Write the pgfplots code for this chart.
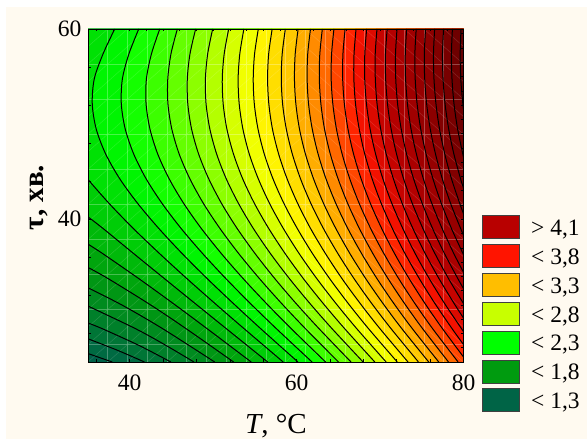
\documentclass[border=0pt]{standalone}
\usepackage{fontspec}
\setmainfont{Liberation Serif}
\usepackage{pgfplots}
\pgfplotsset{compat=1.18}
\definecolor{cream}{RGB}{255,250,240}
% band colours: band above each contour level (level x 10)
\definecolor{b12}{RGB}{0,96,72}
\definecolor{b13}{RGB}{0,106,66}
\definecolor{b14}{RGB}{0,117,54}
\definecolor{b15}{RGB}{0,128,42}
\definecolor{b16}{RGB}{0,139,31}
\definecolor{b17}{RGB}{0,150,20}
\definecolor{b18}{RGB}{0,165,13}
\definecolor{b19}{RGB}{0,185,10}
\definecolor{b20}{RGB}{0,205,7}
\definecolor{b21}{RGB}{0,225,4}
\definecolor{b22}{RGB}{0,245,1}
\definecolor{b23}{RGB}{20,255,0}
\definecolor{b24}{RGB}{60,255,0}
\definecolor{b25}{RGB}{100,255,0}
\definecolor{b26}{RGB}{140,255,0}
\definecolor{b27}{RGB}{180,255,0}
\definecolor{b28}{RGB}{214,255,0}
\definecolor{b29}{RGB}{241,255,0}
\definecolor{b30}{RGB}{255,244,0}
\definecolor{b31}{RGB}{255,222,0}
\definecolor{b32}{RGB}{255,201,0}
\definecolor{b33}{RGB}{255,173,0}
\definecolor{b34}{RGB}{255,139,0}
\definecolor{b35}{RGB}{255,105,0}
\definecolor{b36}{RGB}{255,71,0}
\definecolor{b37}{RGB}{255,37,0}
\definecolor{b38}{RGB}{243,17,0}
\definecolor{b39}{RGB}{220,10,0}
\definecolor{b40}{RGB}{197,3,0}
\definecolor{b41}{RGB}{180,0,0}
\definecolor{b42}{RGB}{170,0,0}
\definecolor{b43}{RGB}{160,0,0}
\definecolor{b44}{RGB}{150,0,0}
\definecolor{b45}{RGB}{140,0,0}
\definecolor{b46}{RGB}{130,0,0}
\definecolor{b47}{RGB}{120,0,0}
\definecolor{b48}{RGB}{110,0,0}
\definecolor{b49}{RGB}{100,0,0}
\definecolor{l1}{RGB}{184,0,0}
\definecolor{l2}{RGB}{255,20,0}
\definecolor{l3}{RGB}{255,190,0}
\definecolor{l4}{RGB}{200,255,0}
\definecolor{l5}{RGB}{0,255,0}
\definecolor{l6}{RGB}{0,155,15}
\definecolor{l7}{RGB}{0,100,70}
% contour lines, level x 10: (T, tau)
\expandafter\def\csname c13\endcsname{(35,25.89)(37.91,25)}
\expandafter\def\csname c14\endcsname{(35,27.44)(38.62,26.2)(41.76,25)}
\expandafter\def\csname c15\endcsname{(35,29.1)(36.71,28.5)(41.09,26.75)(44.93,25)}
\expandafter\def\csname c16\endcsname{(35,30.88)(40.70,28.5)(44.33,26.75)(47.70,25)}
\expandafter\def\csname c17\endcsname{(35,32.8)(39.15,30.95)(43.95,28.5)(50.18,25)}
\expandafter\def\csname c18\endcsname{(35,34.94)(37.44,33.75)(42.59,30.95)(46.76,28.5)(52.45,25)}
\expandafter\def\csname c19\endcsname{(35,37.39)(36.79,36.375)(41.11,33.75)(45.25,31.125)(49.28,28.5)(54.56,25)}
\expandafter\def\csname c20\endcsname{(35,40.26)(36.85,39)(40.50,36.375)(44.18,33.75)(47.87,31.125)(51.58,28.5)(56.53,25)}
\expandafter\def\csname c21\endcsname{(35,44.18)(37.57,41.625)(40.47,39)(43.60,36.375)(46.87,33.75)(50.25,31.125)(53.71,28.5)(58.39,25)}
\expandafter\def\csname c22\endcsname{(38.2,60)(36.8,57.375)(35.75,54.75)(35.51,52.125)(35.98,49.5)(37.11,46.875)(38.81,44.25)(40.99,41.625)(43.52,39)(46.31,36.375)(49.30,33.75)(52.45,31.125)(55.70,28.5)(60.16,25)}
\expandafter\def\csname c23\endcsname{(41.08,60)(39.9,57.375)(39.12,54.75)(38.99,52.125)(39.46,49.5)(40.47,46.875)(41.97,44.25)(43.91,41.625)(46.19,39)(48.76,36.375)(51.54,33.75)(54.49,31.125)(57.58,28.5)(61.85,25)}
\expandafter\def\csname c24\endcsname{(43.6,60)(42.6,57.375)(42.0,54.75)(41.96,52.125)(42.42,49.5)(43.35,46.875)(44.73,44.25)(46.50,41.625)(48.61,39)(51.00,36.375)(53.61,33.75)(56.41,31.125)(59.36,28.5)(63.47,25)}
\expandafter\def\csname c25\endcsname{(45.71,60)(44.94,57.375)(44.56,54.75)(44.58,52.125)(45.04,49.5)(45.92,46.875)(47.21,44.25)(48.86,41.625)(50.84,39)(53.08,36.375)(55.56,33.75)(58.23,31.125)(61.06,28.5)(65.02,25)}
\expandafter\def\csname c26\endcsname{(47.90,60)(47.22,57.375)(46.90,54.75)(46.96,52.125)(47.41,49.5)(48.25,46.875)(49.47,44.25)(51.03,41.625)(52.90,39)(55.04,36.375)(57.40,33.75)(59.96,31.125)(62.69,28.5)(66.52,25)}
\expandafter\def\csname c27\endcsname{(49.94,60)(49.34,57.375)(49.07,54.75)(49.15,52.125)(49.60,49.5)(50.41,46.875)(51.57,44.25)(53.06,41.625)(54.84,39)(56.88,36.375)(59.15,33.75)(61.62,31.125)(64.25,28.5)(67.97,25)}
\expandafter\def\csname c28\endcsname{(51.86,60)(51.32,57.375)(51.09,54.75)(51.20,52.125)(51.64,49.5)(52.43,46.875)(53.54,44.25)(54.97,41.625)(56.68,39)(58.64,36.375)(60.82,33.75)(63.21,31.125)(65.76,28.5)(69.37,25)}
\expandafter\def\csname c29\endcsname{(53.68,60)(53.19,57.375)(52.99,54.75)(53.12,52.125)(53.56,49.5)(54.32,46.875)(55.41,44.25)(56.78,41.625)(58.43,39)(60.32,36.375)(62.43,33.75)(64.74,31.125)(67.21,28.5)(70.73,25)}
\expandafter\def\csname c30\endcsname{(55.41,60)(54.96,57.375)(54.80,54.75)(54.93,52.125)(55.37,49.5)(56.12,46.875)(57.17,44.25)(58.50,41.625)(60.10,39)(61.92,36.375)(63.97,33.75)(66.21,31.125)(68.62,28.5)(72.06,25)}
\expandafter\def\csname c31\endcsname{(57.07,60)(56.65,57.375)(56.52,54.75)(56.67,52.125)(57.10,49.5)(57.84,46.875)(58.86,44.25)(60.15,41.625)(61.69,39)(63.47,36.375)(65.45,33.75)(67.64,31.125)(69.99,28.5)(73.35,25)}
\expandafter\def\csname c32\endcsname{(58.65,60)(58.27,57.375)(58.16,54.75)(58.32,52.125)(58.76,49.5)(59.48,46.875)(60.47,44.25)(61.73,41.625)(63.23,39)(64.96,36.375)(66.89,33.75)(69.02,31.125)(71.32,28.5)(74.60,25)}
\expandafter\def\csname c33\endcsname{(60.18,60)(59.83,57.375)(59.74,54.75)(59.91,52.125)(60.34,49.5)(61.05,46.875)(62.03,44.25)(63.25,41.625)(64.72,39)(66.40,36.375)(68.29,33.75)(70.37,31.125)(72.61,28.5)(75.83,25)}
\expandafter\def\csname c34\endcsname{(61.66,60)(61.33,57.375)(61.26,54.75)(61.43,52.125)(61.87,49.5)(62.57,46.875)(63.52,44.25)(64.72,41.625)(66.15,39)(67.80,36.375)(69.64,33.75)(71.67,31.125)(73.87,28.5)(77.03,25)}
\expandafter\def\csname c35\endcsname{(63.08,60)(62.78,57.375)(62.72,54.75)(62.91,52.125)(63.34,49.5)(64.03,46.875)(64.97,44.25)(66.14,41.625)(67.54,39)(69.15,36.375)(70.96,33.75)(72.95,31.125)(75.10,28.5)(78.20,25)}
\expandafter\def\csname c36\endcsname{(64.47,60)(64.19,57.375)(64.14,54.75)(64.34,52.125)(64.77,49.5)(65.45,46.875)(66.37,44.25)(67.52,41.625)(68.89,39)(70.47,36.375)(72.24,33.75)(74.19,31.125)(76.30,28.5)(79.35,25)}
\expandafter\def\csname c37\endcsname{(65.81,60)(65.55,57.375)(65.52,54.75)(65.72,52.125)(66.15,49.5)(66.82,46.875)(67.73,44.25)(68.86,41.625)(70.21,39)(71.75,36.375)(73.49,33.75)(75.40,31.125)(77.48,28.5)(80,25.53)}
\expandafter\def\csname c38\endcsname{(67.12,60)(66.88,57.375)(66.86,54.75)(67.06,52.125)(67.50,49.5)(68.16,46.875)(69.05,44.25)(70.16,41.625)(71.49,39)(73.00,36.375)(74.71,33.75)(76.59,31.125)(78.63,28.5)(80,26.83)}
\expandafter\def\csname c39\endcsname{(68.39,60)(68.17,57.375)(68.16,54.75)(68.37,52.125)(68.80,49.5)(69.46,46.875)(70.34,44.25)(71.43,41.625)(72.74,39)(74.22,36.375)(75.90,33.75)(77.75,31.125)(79.76,28.5)(80,28.19)}
\expandafter\def\csname c40\endcsname{(69.63,60)(69.42,57.375)(69.43,54.75)(69.64,52.125)(70.07,49.5)(70.73,46.875)(71.60,44.25)(72.67,41.625)(73.95,39)(75.42,36.375)(77.07,33.75)(78.89,31.125)(80,29.62)}
\expandafter\def\csname c41\endcsname{(70.85,60)(70.65,57.375)(70.67,54.75)(70.89,52.125)(71.32,49.5)(71.97,46.875)(72.82,44.25)(73.88,41.625)(75.15,39)(76.59,36.375)(78.21,33.75)(80,31.14)}
\expandafter\def\csname c42\endcsname{(72.03,60)(71.85,57.375)(71.88,54.75)(72.10,52.125)(72.53,49.5)(73.17,46.875)(74.02,44.25)(75.07,41.625)(76.31,39)(77.73,36.375)(79.33,33.75)(80,32.72)}
\expandafter\def\csname c43\endcsname{(73.19,60)(73.02,57.375)(73.06,54.75)(73.28,52.125)(73.71,49.5)(74.35,46.875)(75.19,44.25)(76.22,41.625)(77.45,39)(78.85,36.375)(80,34.43)}
\expandafter\def\csname c44\endcsname{(74.33,60)(74.17,57.375)(74.21,54.75)(74.44,52.125)(74.87,49.5)(75.51,46.875)(76.34,44.25)(77.36,41.625)(78.57,39)(79.95,36.375)(80,36.29)}
\expandafter\def\csname c45\endcsname{(75.45,60)(75.30,57.375)(75.35,54.75)(75.58,52.125)(76.01,49.5)(76.64,46.875)(77.46,44.25)(78.47,41.625)(79.67,39)(80,38.32)}
\expandafter\def\csname c46\endcsname{(76.54,60)(76.40,57.375)(76.46,54.75)(76.70,52.125)(77.12,49.5)(77.75,46.875)(78.56,44.25)(79.56,41.625)(80,40.58)}
\expandafter\def\csname c47\endcsname{(77.61,60)(77.48,57.375)(77.55,54.75)(77.79,52.125)(78.22,49.5)(78.84,46.875)(79.65,44.25)(80,43.27)}
\expandafter\def\csname c48\endcsname{(78.67,60)(78.55,57.375)(78.62,54.75)(78.86,52.125)(79.29,49.5)(79.91,46.875)(80,46.53)}
\expandafter\def\csname c49\endcsname{(79.70,60)(79.60,57.375)(79.67,54.75)(79.92,52.125)(80,51.6)}
% #1 level, #2 closing corners
\newcommand\band[2]{\edef\tmp{\noexpand\addplot[draw=none,fill=b#1,forget plot] coordinates {\csname c#1\endcsname #2} -- cycle;}\tmp}
\newcommand\contourline[1]{\edef\tmp{\noexpand\addplot[black,smooth,line width=1bp,forget plot] coordinates {\csname c#1\endcsname};}\tmp}
\newcommand\lgd[2]{\addlegendimage{legend image code/.code={\draw[fill=#1,draw=black!75,line width=.9bp] (0bp,-10.2bp) rectangle (37.6bp,12.8bp);}}\addlegendentry{\hspace*{11bp}#2}}
\begin{document}
\begin{tikzpicture}[x=1bp,y=1bp]
\path[use as bounding box] (0,0) rectangle (587,439);
\fill[cream] (6,0) rectangle (587,432);
\begin{axis}[
  at={(88bp,77bp)},anchor=south west,
  width=375.5bp,height=333bp,scale only axis,
  xmin=35,xmax=80,ymin=25,ymax=60,
  axis on top=true,
  xtick={40,60,80},ytick={40,60},
  minor xtick={36,44,48,52,56,64,68,72,76},
  minor ytick={28,32,36,44,48,52,56},
  xtick pos=bottom,ytick pos=left,
  tick align=inside,
  major tick length=3bp,minor tick length=2.5bp,
  every tick/.style={black,line width=.6bp},
  axis line style={black,line width=.9bp},
  /pgf/number format/assume math mode=true,
  tick label style={font=\fontsize{23.5bp}{27bp}\selectfont},
  xticklabel style={yshift=-9bp},
  yticklabel style={xshift=-3bp},
  unbounded coords=jump,
  xlabel={\textit{T}, °C},
  xlabel style={font=\fontsize{29bp}{32bp}\selectfont,at={(axis description cs:.5007,-.2162)},anchor=base},
  ylabel={\textbf{τ, хв.}},
  ylabel style={font=\fontsize{29bp}{32bp}\selectfont,at={(axis description cs:-.1198,.494)},anchor=base,rotate=0},
  legend style={at={(axis description cs:1.0485,.4414)},anchor=north west,draw=none,fill=none,inner sep=0pt,outer sep=0pt,
    font=\fontsize{23.5bp}{27bp}\selectfont,row sep=5bp,
    nodes={inner sep=0pt,outer sep=0pt}},
  legend cell align=left,
]
\addplot[draw=none,fill=b12,forget plot] coordinates {(35,25)(80,25)(80,60)(35,60)} -- cycle;
\band{13}{(80,25)(80,60)(35,60)}
\band{14}{(80,25)(80,60)(35,60)}
\band{15}{(80,25)(80,60)(35,60)}
\band{16}{(80,25)(80,60)(35,60)}
\band{17}{(80,25)(80,60)(35,60)}
\band{18}{(80,25)(80,60)(35,60)}
\band{19}{(80,25)(80,60)(35,60)}
\band{20}{(80,25)(80,60)(35,60)}
\band{21}{(80,25)(80,60)(35,60)}
\band{22}{(80,25)(80,60)}
\band{23}{(80,25)(80,60)}
\band{24}{(80,25)(80,60)}
\band{25}{(80,25)(80,60)}
\band{26}{(80,25)(80,60)}
\band{27}{(80,25)(80,60)}
\band{28}{(80,25)(80,60)}
\band{29}{(80,25)(80,60)}
\band{30}{(80,25)(80,60)}
\band{31}{(80,25)(80,60)}
\band{32}{(80,25)(80,60)}
\band{33}{(80,25)(80,60)}
\band{34}{(80,25)(80,60)}
\band{35}{(80,25)(80,60)}
\band{36}{(80,25)(80,60)}
\band{37}{(80,60)}
\band{38}{(80,60)}
\band{39}{(80,60)}
\band{40}{(80,60)}
\band{41}{(80,60)}
\band{42}{(80,60)}
\band{43}{(80,60)}
\band{44}{(80,60)}
\band{45}{(80,60)}
\band{46}{(80,60)}
\band{47}{(80,60)}
\band{48}{(80,60)}
\band{49}{(80,60)}
% faint mesh of the fitted surface
\addplot[white,opacity=.28,line width=.8bp,forget plot] coordinates {
(37.37,25)(37.37,60)(nan,nan)(39.74,25)(39.74,60)(nan,nan)(42.11,25)(42.11,60)(nan,nan)(44.47,25)(44.47,60)(nan,nan)
(46.84,25)(46.84,60)(nan,nan)(49.21,25)(49.21,60)(nan,nan)(51.58,25)(51.58,60)(nan,nan)(53.95,25)(53.95,60)(nan,nan)
(56.32,25)(56.32,60)(nan,nan)(58.68,25)(58.68,60)(nan,nan)(61.05,25)(61.05,60)(nan,nan)(63.42,25)(63.42,60)(nan,nan)
(65.79,25)(65.79,60)(nan,nan)(68.16,25)(68.16,60)(nan,nan)(70.53,25)(70.53,60)(nan,nan)(72.89,25)(72.89,60)(nan,nan)
(75.26,25)(75.26,60)(nan,nan)(77.63,25)(77.63,60)(nan,nan)
(35,56.32)(80,56.32)(nan,nan)(35,52.63)(80,52.63)(nan,nan)(35,48.95)(80,48.95)(nan,nan)(35,45.26)(80,45.26)(nan,nan)
(35,41.58)(80,41.58)(nan,nan)(35,37.89)(80,37.89)(nan,nan)(35,34.21)(80,34.21)(nan,nan)(35,30.53)(80,30.53)(nan,nan)
(35,26.84)(80,26.84)
};
\addplot[white,opacity=.15,line width=.5bp,forget plot] coordinates {
(35,26.84)(61.05,47.11)(nan,nan)(35,28.68)(61.05,48.95)(nan,nan)(35,30.53)(61.05,50.79)(nan,nan)(35,32.37)(61.05,52.63)(nan,nan)
(35,34.21)(61.05,54.47)(nan,nan)(35,36.05)(61.05,56.32)(nan,nan)(35,37.89)(61.05,58.16)(nan,nan)(35,39.74)(61.05,60)(nan,nan)
(35,41.58)(58.68,60)(nan,nan)(35,43.42)(56.32,60)(nan,nan)(35,45.26)(53.95,60)(nan,nan)(35,47.11)(51.58,60)(nan,nan)
(35,48.95)(49.21,60)(nan,nan)(35,50.79)(46.84,60)(nan,nan)(35,52.63)(44.47,60)(nan,nan)(35,54.47)(42.11,60)(nan,nan)
(35,56.32)(39.74,60)(nan,nan)(35,58.16)(37.37,60)(nan,nan)
(35,25)(61.05,45.26)(nan,nan)(37.37,25)(61.05,43.42)(nan,nan)(39.74,25)(61.05,41.58)(nan,nan)(42.11,25)(61.05,39.74)(nan,nan)
(44.47,25)(61.05,37.89)(nan,nan)(46.84,25)(61.05,36.05)(nan,nan)(49.21,25)(61.05,34.21)(nan,nan)(51.58,25)(61.05,32.37)(nan,nan)
(53.95,25)(61.05,30.53)(nan,nan)(56.32,25)(61.05,28.68)(nan,nan)(58.68,25)(61.05,26.84)(nan,nan)
(61.05,60)(80,45.26)(nan,nan)(61.05,58.16)(80,43.42)(nan,nan)(61.05,56.32)(80,41.58)(nan,nan)(61.05,54.47)(80,39.74)(nan,nan)
(61.05,52.63)(80,37.89)(nan,nan)(61.05,50.79)(80,36.05)(nan,nan)(61.05,48.95)(80,34.21)(nan,nan)(61.05,47.11)(80,32.37)(nan,nan)
(61.05,45.26)(80,30.53)(nan,nan)(61.05,43.42)(80,28.68)(nan,nan)(61.05,41.58)(80,26.84)(nan,nan)(61.05,39.74)(80,25)(nan,nan)
(61.05,37.89)(77.63,25)(nan,nan)(61.05,36.05)(75.26,25)(nan,nan)(61.05,34.21)(72.89,25)(nan,nan)(61.05,32.37)(70.53,25)(nan,nan)
(61.05,30.53)(68.16,25)(nan,nan)(61.05,28.68)(65.79,25)(nan,nan)(61.05,26.84)(63.42,25)(nan,nan)
(63.42,60)(80,47.11)(nan,nan)(65.79,60)(80,48.95)(nan,nan)(68.16,60)(80,50.79)(nan,nan)(70.53,60)(80,52.63)(nan,nan)
(72.89,60)(80,54.47)(nan,nan)(75.26,60)(80,56.32)(nan,nan)(77.63,60)(80,58.16)
};
\pgfplotsforeachungrouped \L in {13,14,...,49}{\contourline{\L}}
\lgd{l1}{> 4,1}
\lgd{l2}{< 3,8}
\lgd{l3}{< 3,3}
\lgd{l4}{< 2,8}
\lgd{l5}{< 2,3}
\lgd{l6}{< 1,8}
\lgd{l7}{< 1,3}
\end{axis}
\begin{axis}[
  at={(88bp,77bp)},anchor=south west,
  width=375.5bp,height=333bp,scale only axis,
  xmin=35,xmax=80,ymin=25,ymax=60,
  xtick={36,38,...,78},ytick={26.5,28,...,59.5},
  xticklabels={},yticklabels={},
  xtick pos=top,ytick pos=right,
  tick align=inside,major tick length=2.5bp,
  every tick/.style={black,line width=.6bp},
  axis line style={draw=none},
]
\end{axis}
\end{tikzpicture}
\end{document}
